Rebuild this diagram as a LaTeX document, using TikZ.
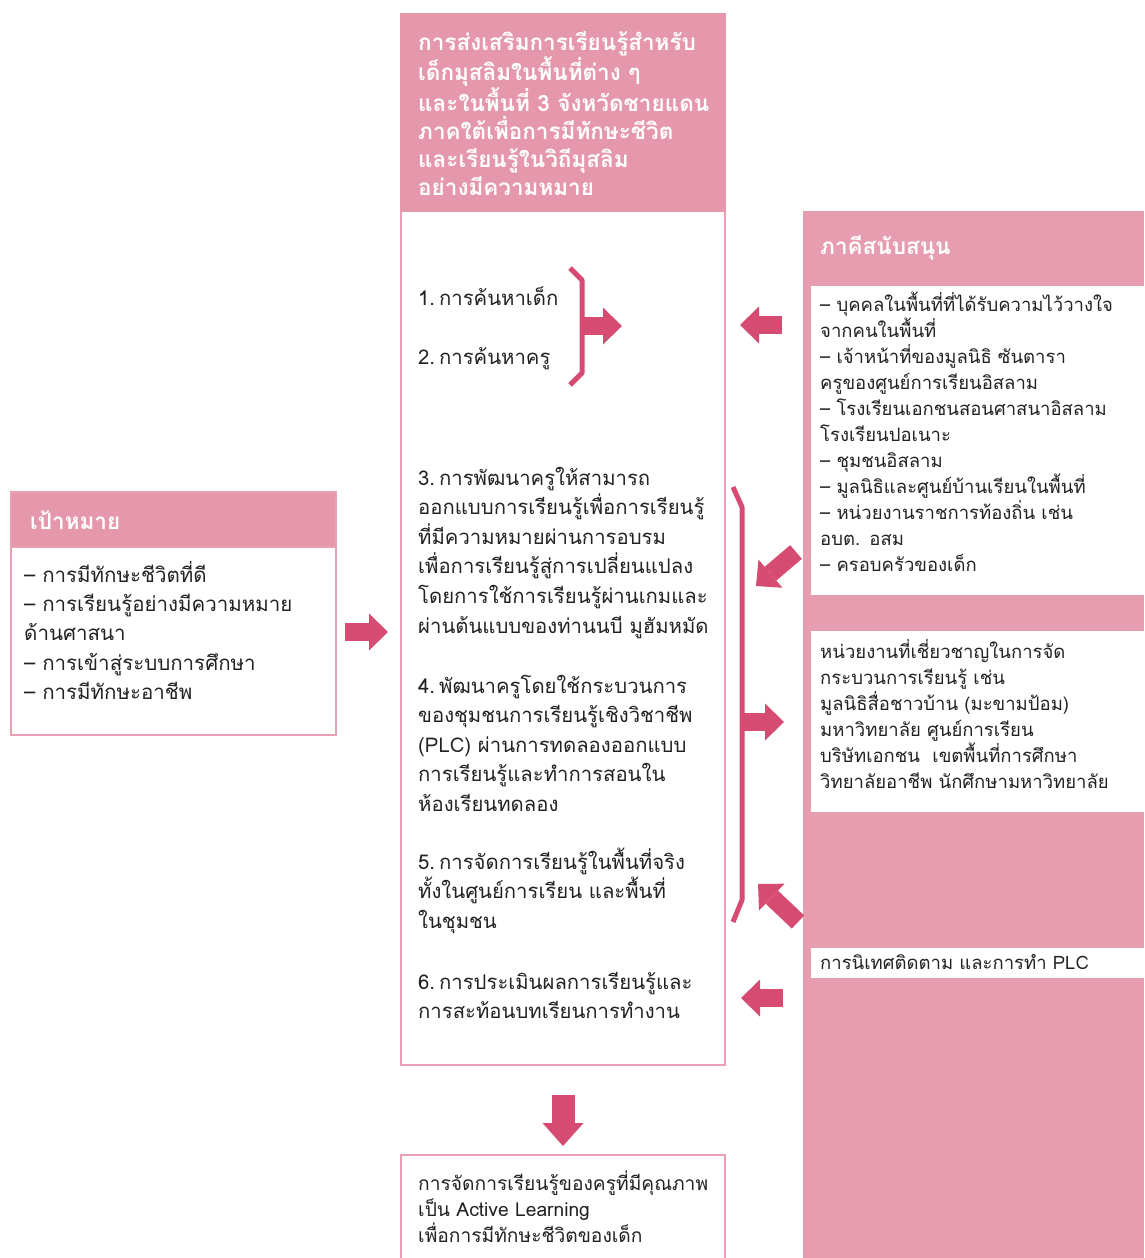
\documentclass[tikz,border=0pt]{standalone}
\usepackage{fontspec}
\setmainfont[Script=Thai]{Loma}
\usetikzlibrary{arrows.meta}
\definecolor{pinkhead}{HTML}{E597AC}
\definecolor{pinkline}{HTML}{E9A0B3}
\definecolor{panel}{HTML}{E79DB0}
\definecolor{arrowc}{HTML}{D64B72}
\definecolor{txt}{HTML}{222222}
\newcommand{\numsp}{\hspace{4pt}}
\tikzset{
  boxline/.style={draw=pinkline, line width=2pt, fill=white},
  headfill/.style={fill=pinkhead, draw=pinkline, line width=2pt},
  bodytext/.style={anchor=base west, inner sep=0pt, text=txt, align=left, text width=#1,
     font=\fontsize{20.3}{29.6}\selectfont},
  lefttext/.style={anchor=base west, inner sep=0pt, text=txt, align=left, text width=#1,
     font=\fontsize{20.5}{29.4}\selectfont},
  smalltext/.style={anchor=base west, inner sep=0pt, text=txt, align=left, text width=#1,
     font=\fontsize{18.5}{26}\selectfont},
  bottomtext/.style={anchor=base west, inner sep=0pt, text=txt, align=left, text width=#1,
     font=\fontsize{19.2}{26}\selectfont},
  headtext/.style={anchor=base west, inner sep=0pt, text=white, align=left, text width=#1,
     font=\fontsize{22.5}{28}\selectfont\bfseries},
  blockarrow/.style={draw=arrowc, line width=18pt, -{Triangle[length=19pt,width=37pt,line width=0pt]}},
  bigarrow/.style={draw=arrowc, line width=23pt, -{Triangle[length=23pt,width=41pt,line width=0pt]}},
  bracketline/.style={draw=arrowc, line width=5pt, line join=round},
}
\begin{document}
\begin{tikzpicture}[x=1pt,y=-1pt]
\useasboundingbox (0,0) rectangle (1144,1258);
\fill[white] (0,0) rectangle (1144,1258);

% ---------- centre column ----------
\draw[boxline] (401,211) rectangle (725,1065);
\fill[pinkhead] (400,13) rectangle (726,212);
\node[headtext=310pt] (ctitle) at (418,50) {การส่งเสริมการเรียนรู้สำหรับ\\เด็กมุสลิมในพื้นที่ต่าง ๆ\\และในพื้นที่ 3 จังหวัดชายแดน\\ภาคใต้เพื่อการมีทักษะชีวิต\\และเรียนรู้ในวิถีมุสลิม\\อย่างมีความหมาย};

\node[bodytext=200pt] (s1) at (418,305) {1.\numsp การค้นหาเด็ก};
\node[bodytext=200pt] (s2) at (418,364) {2.\numsp การค้นหาครู};
\node[bodytext=310pt] (s3) at (418,485) {3.\numsp การพัฒนาครูให้สามารถ\\ออกแบบการเรียนรู้เพื่อการเรียนรู้\\ที่มีความหมายผ่านการอบรม\\เพื่อการเรียนรู้สู่การเปลี่ยนแปลง\\โดยการใช้การเรียนรู้ผ่านเกมและ\\ผ่านต้นแบบของท่านนบี มูฮัมหมัด};
\node[bodytext=310pt] (s4) at (418,693) {4.\numsp พัฒนาครูโดยใช้กระบวนการ\\ของชุมชนการเรียนรู้เชิงวิชาชีพ\\(PLC) ผ่านการทดลองออกแบบ\\การเรียนรู้และทำการสอนใน\\ห้องเรียนทดลอง};
\node[bodytext=310pt] (s5) at (418,869) {5.\numsp การจัดการเรียนรู้ในพื้นที่จริง\\ทั้งในศูนย์การเรียน และพื้นที่\\ในชุมชน};
\node[bodytext=310pt] (s6) at (418,989) {6.\numsp การประเมินผลการเรียนรู้และ\\การสะท้อนบทเรียนการทำงาน};

% small bracket with arrow
\coordinate (b1a) at (570,268);
\coordinate (b1b) at (582,280);
\coordinate (b1c) at (582,373);
\coordinate (b1d) at (570,385);
\coordinate (b1m) at (580,326);
\coordinate (b1t) at (622,326);
\draw[bracketline] (b1a) -- (b1b) -- (b1c) -- (b1d);
\draw[blockarrow] (b1m) -- (b1t);

% long bracket with arrow
\coordinate (b2a) at (733,487);
\coordinate (b2b) at (742,507);
\coordinate (b2c) at (742,900);
\coordinate (b2d) at (733,922);
\coordinate (b2m) at (740,722);
\coordinate (b2t) at (784,722);
\draw[bracketline] (b2a) -- (b2b) -- (b2c) -- (b2d);
\draw[blockarrow] (b2m) -- (b2t);

% ---------- left box ----------
\draw[boxline] (11,547) rectangle (336,735);
\draw[headfill] (11,492) rectangle (336,547);
\node[headtext=300pt] (goalh) at (30,529) {เป้าหมาย};
\node[lefttext=310pt] (goal) at (24,582) {– การมีทักษะชีวิตที่ดี\\– การเรียนรู้อย่างมีความหมาย\\ด้านศาสนา\\– การเข้าสู่ระบบการศึกษา\\– การมีทักษะอาชีพ};

\coordinate (la) at (345,632);
\coordinate (lb) at (388,632);
\draw[blockarrow] (la) -- (lb);

% ---------- right panel ----------
\fill[panel] (803,211) rectangle (1144,1258);
\node[headtext=300pt] (parth) at (820,254) {ภาคีสนับสนุน};
\fill[white] (811,286) rectangle (1144,595);
\fill[white] (811,631) rectangle (1144,812);
\fill[white] (811,948) rectangle (1144,978);
\node[smalltext=325pt] (part) at (820,311) {– บุคคลในพื้นที่ที่ได้รับความไว้วางใจ\\จากคนในพื้นที่\\– เจ้าหน้าที่ของมูลนิธิ ซันตารา\\ครูของศูนย์การเรียนอิสลาม\\– โรงเรียนเอกชนสอนศาสนาอิสลาม\\โรงเรียนปอเนาะ\\– ชุมชนอิสลาม\\– มูลนิธิและศูนย์บ้านเรียนในพื้นที่\\– หน่วยงานราชการท้องถิ่น เช่น\\อบต. อสม\\– ครอบครัวของเด็ก};
\node[smalltext=325pt] (expert) at (820,658) {หน่วยงานที่เชี่ยวชาญในการจัด\\กระบวนการเรียนรู้ เช่น\\มูลนิธิสื่อชาวบ้าน (มะขามป้อม)\\มหาวิทยาลัย ศูนย์การเรียน\\บริษัทเอกชน\ \ เขตพื้นที่การศึกษา\\วิทยาลัยอาชีพ นักศึกษามหาวิทยาลัย};
\node[smalltext=325pt] (superv) at (820,969) {การนิเทศติดตาม และการทำ PLC};

% arrows from right panel
\coordinate (r1a) at (782,325);
\coordinate (r1b) at (740,325);
\draw[blockarrow] (r1a) -- (r1b);
\coordinate (r2a) at (796,552);
\coordinate (r2b) at (756,586);
\draw[blockarrow] (r2a) -- (r2b);
\coordinate (r3a) at (798,922);
\coordinate (r3b) at (758,884);
\draw[blockarrow] (r3a) -- (r3b);
\coordinate (r4a) at (783,998);
\coordinate (r4b) at (741,998);
\draw[blockarrow] (r4a) -- (r4b);

% ---------- bottom ----------
\coordinate (da) at (563,1095);
\coordinate (db) at (563,1146);
\draw[bigarrow] (da) -- (db);
\draw[boxline] (401,1155) rectangle (725,1264);
\node[bottomtext=305pt] (result) at (418,1190) {การจัดการเรียนรู้ของครูที่มีคุณภาพ\\เป็น Active Learning\\เพื่อการมีทักษะชีวิตของเด็ก};
\end{tikzpicture}
\end{document}
